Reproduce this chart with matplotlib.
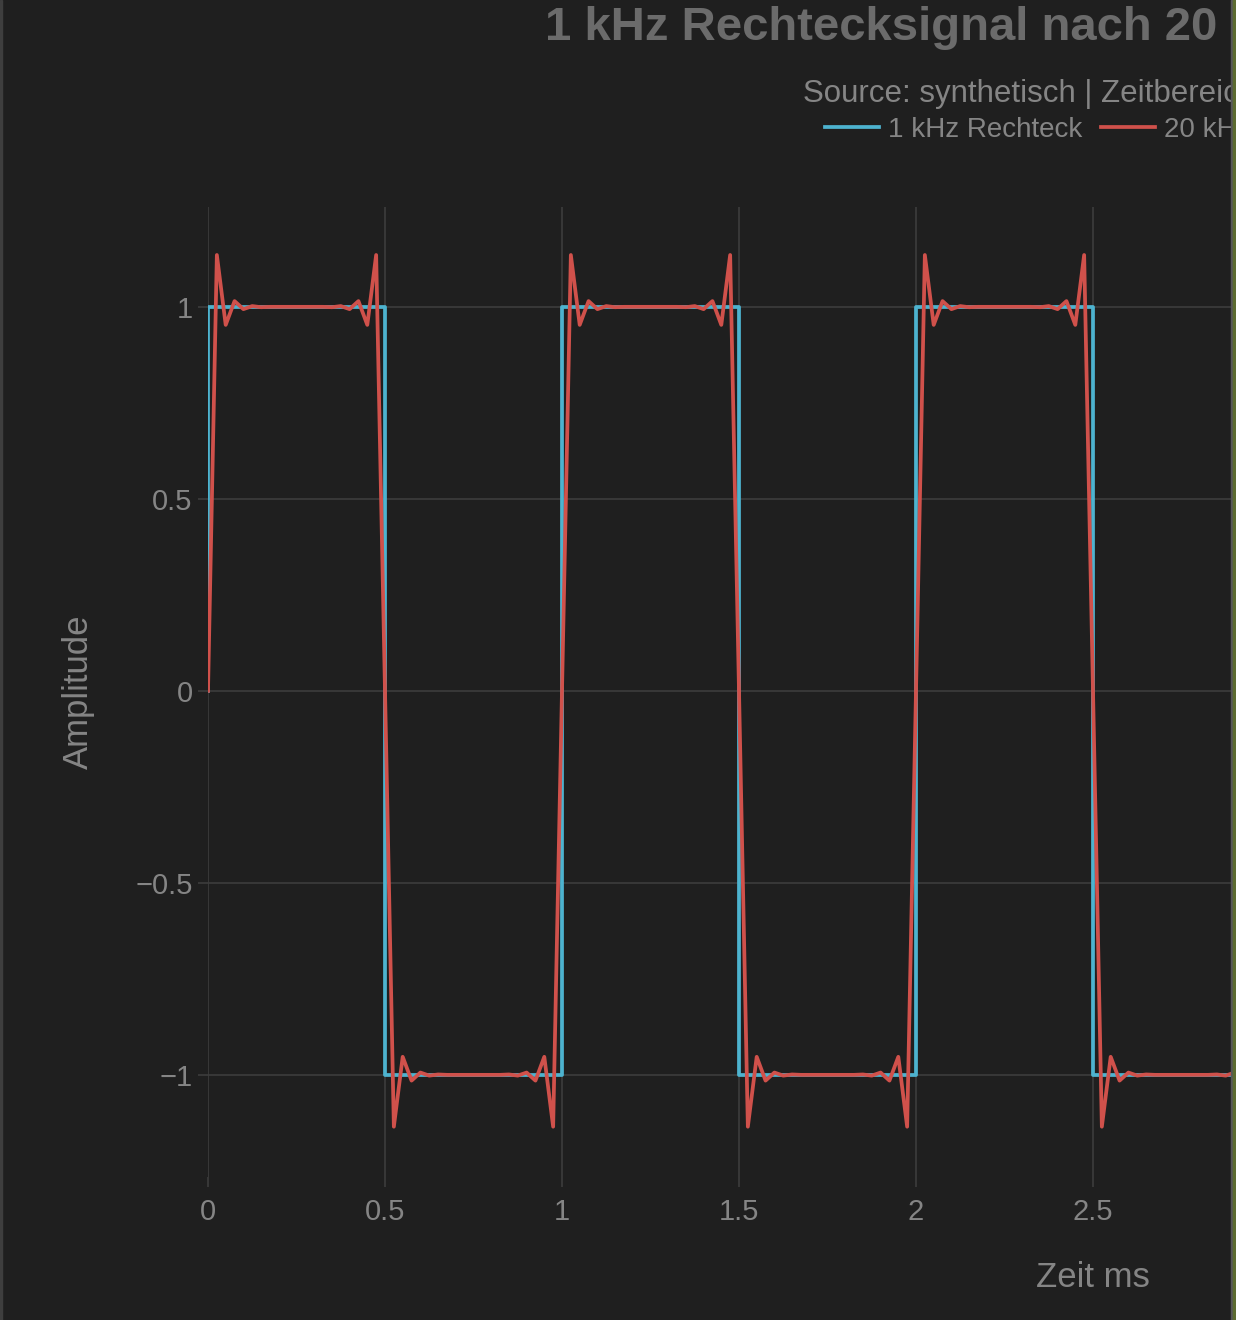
import matplotlib
matplotlib.use("Agg")
import matplotlib.pyplot as plt
import numpy as np
from matplotlib.patches import Rectangle

# sample step of the filtered signal, ms
step = 0.025

# 20 kHz lowpass output (0 .. 3 ms)
lowpass = [
    0.000, 1.135, 0.953, 1.015, 0.994, 1.002, 0.999, 1.000, 1.000, 1.000,
    1.000, 1.000, 1.000, 1.000, 0.999, 1.002, 0.994, 1.015, 0.953, 1.135,
    0.000, -1.135, -0.953, -1.015, -0.994, -1.002, -0.999, -1.000, -1.000, -1.000,
    -1.000, -1.000, -1.000, -1.000, -0.999, -1.002, -0.994, -1.015, -0.953, -1.135,
    0.000, 1.135, 0.953, 1.015, 0.994, 1.002, 0.999, 1.000, 1.000, 1.000,
    1.000, 1.000, 1.000, 1.000, 0.999, 1.002, 0.994, 1.015, 0.953, 1.135,
    0.000, -1.135, -0.953, -1.015, -0.994, -1.002, -0.999, -1.000, -1.000, -1.000,
    -1.000, -1.000, -1.000, -1.000, -0.999, -1.002, -0.994, -1.015, -0.953, -1.135,
    0.000, 1.135, 0.953, 1.015, 0.994, 1.002, 0.999, 1.000, 1.000, 1.000,
    1.000, 1.000, 1.000, 1.000, 0.999, 1.002, 0.994, 1.015, 0.953, 1.135,
    0.000, -1.135, -0.953, -1.015, -0.994, -1.002, -0.999, -1.000, -1.000, -1.000,
    -1.000, -1.000, -1.000, -1.000, -0.999, -1.002, -0.994, -1.015, -0.953, -1.135,
    0.000,
]
t_lowpass = np.arange(len(lowpass)) * step

# ideal 1 kHz square wave corners
t_square = [0, 0, 0.5, 0.5, 1.0, 1.0, 1.5, 1.5, 2.0, 2.0, 2.5, 2.5, 3.0, 3.0]
square = [0, 1, 1, -1, -1, 1, 1, -1, -1, 1, 1, -1, -1, 1]

xticks = [0, 0.5, 1, 1.5, 2, 2.5]
yticks = [-1, -0.5, 0, 0.5, 1]

bg = "#1f1f1f"
grid = "#3c3c3c"
txt = "#858585"

plt.rcParams["font.family"] = ["Liberation Sans", "DejaVu Sans"]

W, H = 1236, 1320
fig = plt.figure(figsize=(W / 100, H / 100), dpi=100, facecolor=bg)
ax = fig.add_axes([208 / W, 1 - 1177 / H, 1770 / W, 970 / H], facecolor=bg)

p1, = ax.plot(t_square, square, color="#4db3cf", lw=2.7, label="1 kHz Rechteck")
p2, = ax.plot(t_lowpass, lowpass, color="#d0514b", lw=2.7, label="20 kHz Tiefpass")

ax.set_xlim(0, 5)
ax.set_ylim(-1.266, 1.26)
ax.set_xticks(xticks)
ax.set_xticklabels([f"{v:g}" for v in xticks])
ax.set_yticks(yticks)
ax.set_yticklabels([f"{v:g}".replace("-", "\u2212") for v in yticks])
ax.grid(True, color=grid, lw=1.2)
ax.set_axisbelow(True)
for s in ax.spines.values():
    s.set_visible(False)
ax.tick_params(length=7, width=1.2, color=grid, labelcolor=txt, labelsize=21, pad=4)
ax.tick_params(axis="x", pad=8)

ax.set_xlabel("Zeit ms", fontsize=25, color=txt, labelpad=25)
ax.set_ylabel("Amplitude", fontsize=25, color=txt, labelpad=29)

fig.text(545 / W, 1 - 40 / H, "1 kHz Rechtecksignal nach 20 kHz Tiefpass",
         fontsize=34, fontweight="bold", color="#6b6b6b", va="baseline", ha="left")
fig.text(803 / W, 1 - 102 / H, "Source: synthetisch | Zeitbereich 0\u20135 ms",
         fontsize=22.5, color=txt, va="baseline", ha="left")

fig.legend(handles=[p1, p2], loc="center left", bbox_to_anchor=(825 / W, 1 - 130 / H),
           ncol=2, frameon=False, fontsize=20, labelcolor=txt, borderpad=0,
           borderaxespad=0, handlelength=1.95, handletextpad=0.3, columnspacing=0.7)

# window edges of the screenshot
fig.patches.append(Rectangle((0, 0), 2 / W, 1, transform=fig.transFigure, color="#3e3e3e", zorder=10))
fig.patches.append(Rectangle((1231 / W, 0), 2 / W, 1, transform=fig.transFigure, color="#585858", zorder=10))
fig.patches.append(Rectangle((1233 / W, 0), 3 / W, 1, transform=fig.transFigure, color="#5c6b30", zorder=10))

fig.savefig("out.png", dpi=100, facecolor=bg)
